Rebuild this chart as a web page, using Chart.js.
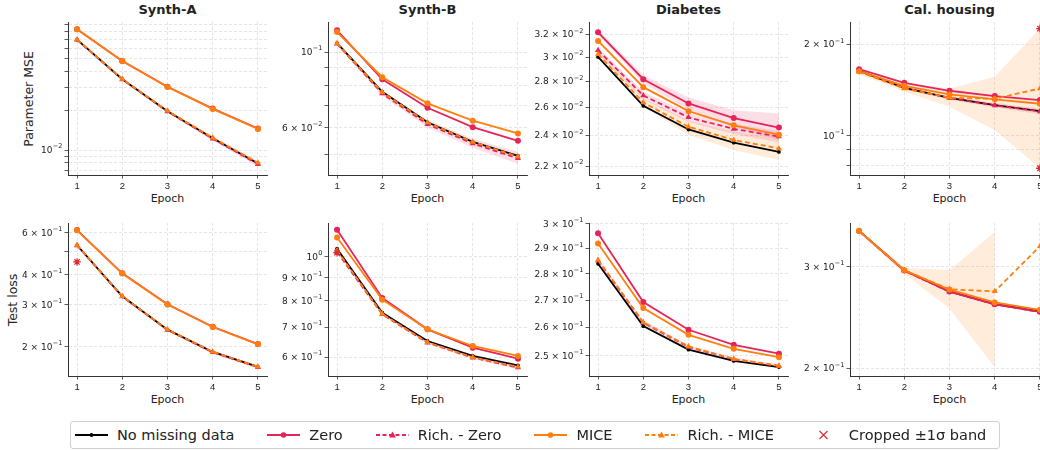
<!DOCTYPE html>
<html>
<head>
<meta charset="utf-8">
<script src="https://cdn.jsdelivr.net/npm/chart.js@4.4.1/dist/chart.umd.min.js"></script>
<style>
	body { margin: 0; background: #fff; font-family: 'DejaVu Sans', sans-serif; color: #222; }
	#page { position: relative; width: 1040px; height: 450px; overflow: hidden; }
	canvas { position: absolute; }
	.title { position: absolute; text-align: center; font-weight: bold; font-size: 13px; line-height: 16px; }
	.xlabel { position: absolute; text-align: center; font-size: 11px; line-height: 13px; }
	.ylabel { position: absolute; font-size: 12.5px; white-space: nowrap; transform: translate(-50%, -50%) rotate(-90deg); }
	#legend { position: absolute; left: 70px; top: 421px; width: 930px; height: 28px; border: 1px solid #d0d0d0; border-radius: 3px; display: flex; align-items: center; padding-left: 4px; box-sizing: border-box; }
	.item { display: flex; align-items: center; margin-right: 33px; font-size: 14.5px; white-space: nowrap; }
	.item svg { margin-right: 9px; }
</style>
</head>
<body>
<div id="page"></div>
<script>
const epochs = [1, 2, 3, 4, 5];
const datasetNames = ['Synth-A', 'Synth-B', 'Diabetes', 'Cal. housing'];
const rowNames = ['Parameter MSE', 'Test loss'];

// parameter MSE, one row per dataset (Synth-A, Synth-B, Diabetes, Cal. housing)
const mseNone = [
	[0.0695, 0.0347, 0.0198, 0.0123, 0.0079],
	[0.1062, 0.0765, 0.0623, 0.0546, 0.0497],
	[0.03003, 0.02612, 0.02442, 0.02352, 0.02291],
	[0.1638, 0.1441, 0.1336, 0.1264, 0.1208]
];
const mseZero = [
	[0.0836, 0.0478, 0.0304, 0.0207, 0.0146],
	[0.1157, 0.0832, 0.0687, 0.0603, 0.0550],
	[0.03221, 0.02818, 0.02630, 0.02523, 0.02455],
	[0.1660, 0.1496, 0.1409, 0.1353, 0.1313]
];
const mseRichZero = [
	[0.0694, 0.0346, 0.0197, 0.0122, 0.0078],
	[0.1057, 0.0756, 0.0615, 0.0540, 0.0489],
	[0.03060, 0.02690, 0.02528, 0.02446, 0.02393],
	[0.1636, 0.1440, 0.1333, 0.1261, 0.1205]
];
const mseMice = [
	[0.0834, 0.0477, 0.0303, 0.0206, 0.0145],
	[0.1144, 0.0844, 0.0708, 0.0630, 0.0578],
	[0.03143, 0.02755, 0.02573, 0.02471, 0.02406],
	[0.1634, 0.1463, 0.1370, 0.1320, 0.1277]
];
const mseRichMice = [
	[0.0697, 0.0348, 0.0199, 0.0124, 0.0080],
	[0.1060, 0.0763, 0.0622, 0.0546, 0.0495],
	[0.03026, 0.02637, 0.02461, 0.02370, 0.02314],
	[0.1627, 0.1434, 0.1336, 0.1326, 0.1434]
];
// ±1σ bands (null = not drawn)
const mseZeroLo = [null, null, [0.03197, 0.02785, 0.02585, 0.02461, 0.02370], null];
const mseZeroHi = [null, null, [0.03246, 0.02851, 0.02675, 0.02580, 0.02556], null];
const mseRichZeroLo = [
	[0.0690, 0.0342, 0.0193, 0.0118, 0.0075],
	[0.1045, 0.0745, 0.0602, 0.0525, 0.0471],
	[0.03035, 0.02660, 0.02495, 0.02410, 0.02355],
	[0.1625, 0.1425, 0.1318, 0.1240, 0.1180]
];
const mseRichZeroHi = [
	[0.0699, 0.0351, 0.0202, 0.0127, 0.0082],
	[0.1070, 0.0770, 0.0632, 0.0558, 0.0511],
	[0.03085, 0.02720, 0.02560, 0.02480, 0.02430],
	[0.1648, 0.1455, 0.1350, 0.1285, 0.1232]
];
const mseRichMiceLo = [null, null, [0.03003, 0.02605, 0.02404, 0.02303, 0.02238], [0.1596, 0.1398, 0.1248, 0.1046, 0.0783]];
const mseRichMiceHi = [null, null, [0.03048, 0.02667, 0.02506, 0.02427, 0.02393], [0.1668, 0.1489, 0.1434, 0.1566, 0.2258]];
const mseCropped = [[], [], [], [[5, 0.2258], [5, 0.0783]]];

// test loss
const lossNone = [
	[0.5328, 0.3259, 0.2363, 0.1906, 0.1650],
	[1.043, 0.7532, 0.6520, 0.6041, 0.5761],
	[0.2839, 0.2605, 0.2522, 0.2483, 0.2462],
	[0.3464, 0.2960, 0.2722, 0.2588, 0.2512]
];
const lossZero = [
	[0.6165, 0.4065, 0.3015, 0.2430, 0.2057],
	[1.149, 0.8117, 0.6918, 0.6303, 0.5959],
	[0.2961, 0.2693, 0.2592, 0.2539, 0.2508],
	[0.3464, 0.2958, 0.2719, 0.2585, 0.2508]
];
const lossRichZero = [
	[0.5318, 0.3250, 0.2357, 0.1900, 0.1645],
	[1.026, 0.7467, 0.6464, 0.5990, 0.5693],
	[0.2852, 0.2617, 0.2531, 0.2489, 0.2466],
	[0.3462, 0.2955, 0.2718, 0.2584, 0.2506]
];
const lossMice = [
	[0.6150, 0.4055, 0.3008, 0.2424, 0.2052],
	[1.104, 0.8048, 0.6918, 0.6356, 0.6041],
	[0.2919, 0.2671, 0.2574, 0.2525, 0.2496],
	[0.3464, 0.2960, 0.2741, 0.2604, 0.2529]
];
const lossRichMice = [
	[0.5335, 0.3262, 0.2366, 0.1910, 0.1652],
	[1.034, 0.7478, 0.6476, 0.6000, 0.5715],
	[0.2854, 0.2619, 0.2533, 0.2490, 0.2466],
	[0.3464, 0.2962, 0.2744, 0.2722, 0.3259]
];
const lossZeroLo = [null, null, null, null];
const lossZeroHi = [null, null, null, null];
const lossRichZeroLo = [
	[0.528, 0.322, 0.233, 0.187, 0.162],
	[1.020, 0.742, 0.642, 0.595, 0.565],
	[0.2845, 0.2610, 0.2525, 0.2484, 0.2460],
	null
];
const lossRichZeroHi = [
	[0.536, 0.329, 0.239, 0.193, 0.168],
	[1.034, 0.752, 0.651, 0.604, 0.574],
	[0.2860, 0.2625, 0.2538, 0.2495, 0.2472],
	null
];
const lossRichMiceLo = [null, null, null, [0.3450, 0.2921, 0.2541, 0.2010, null]];
const lossRichMiceHi = [null, null, null, [0.3478, 0.2992, 0.2960, 0.3448, null]];
const lossCropped = [[[1, 0.4535]], [[1, 1.022]], [], []];

// y axes; labels are "mantissa × 10^exponent"
const mseRange = [[0.00645, 0.0948], [0.0437, 0.1224], [0.02145, 0.03317], [0.0744, 0.2373]];
const lossRange = [[0.1512, 0.66], [0.5455, 1.189], [0.2432, 0.3003], [0.1942, 0.3575]];
const mseTickValues = [
	[0.007, 0.008, 0.009, 0.01, 0.02, 0.03, 0.04, 0.05, 0.06, 0.07, 0.08, 0.09],
	[0.05, 0.06, 0.07, 0.08, 0.09, 0.1],
	[0.022, 0.024, 0.026, 0.028, 0.03, 0.032],
	[0.08, 0.09, 0.1, 0.2]
];
const mseTickLabels = [
	['', '', '', '10^−2', '', '', '', '', '', '', '', ''],
	['', '6 × 10^−2', '', '', '', '10^−1'],
	['2.2 × 10^−2', '2.4 × 10^−2', '2.6 × 10^−2', '2.8 × 10^−2', '3 × 10^−2', '3.2 × 10^−2'],
	['', '', '10^−1', '2 × 10^−1']
];
const lossTickValues = [
	[0.2, 0.3, 0.4, 0.5, 0.6],
	[0.6, 0.7, 0.8, 0.9, 1],
	[0.25, 0.26, 0.27, 0.28, 0.29, 0.3],
	[0.2, 0.3]
];
const lossTickLabels = [
	['2 × 10^−1', '3 × 10^−1', '4 × 10^−1', '', '6 × 10^−1'],
	['6 × 10^−1', '7 × 10^−1', '8 × 10^−1', '9 × 10^−1', '10^0'],
	['2.5 × 10^−1', '2.6 × 10^−1', '2.7 × 10^−1', '2.8 × 10^−1', '2.9 × 10^−1', '3 × 10^−1'],
	['2 × 10^−1', '3 × 10^−1']
];

const RED = '#e6245a';
const ORANGE = '#ff7f0e';
const CROP_RED = '#dc2a2e';
const PINK_BAND = 'rgba(230, 36, 90, 0.15)';
const PEACH_BAND = 'rgba(255, 127, 14, 0.15)';

// draws the y tick labels with a raised exponent, like matplotlib mathtext
const sciTickPlugin = {
	id: 'sciTicks',
	afterDraw: (chart, args, opts) => {
		let s = chart.scales.y;
		let ctx = chart.ctx;
		ctx.save();
		ctx.fillStyle = '#222';
		ctx.textBaseline = 'middle';
		ctx.textAlign = 'left';
		s.ticks.forEach((t, i) => {
			let label = opts.labels[i];
			if (!label) return;
			let [base, exp] = label.split('^');
			let y = s.getPixelForValue(t.value);
			ctx.font = '6.5px "DejaVu Sans"';
			let we = ctx.measureText(exp).width;
			ctx.font = '9px "DejaVu Sans"';
			let wb = ctx.measureText(base).width;
			let x = s.right - 3.5 - 2.5 - we - wb;
			ctx.fillText(base, x, y + 0.5);
			ctx.font = '6.5px "DejaVu Sans"';
			ctx.fillText(exp, x + wb + 0.3, y - 3.5);
		});
		ctx.restore();
	}
};

class FigureGrid {
	constructor() {
		this.page = document.getElementById('page');
		this.colX = [68, 328, 589, 850];
		this.rowY = [22, 223];
		this.plotW = 199;
		this.plotH = 153;
		this.rows = [
			{ none: mseNone, zero: mseZero, richZero: mseRichZero, mice: mseMice, richMice: mseRichMice,
				zeroLo: mseZeroLo, zeroHi: mseZeroHi, richZeroLo: mseRichZeroLo, richZeroHi: mseRichZeroHi,
				richMiceLo: mseRichMiceLo, richMiceHi: mseRichMiceHi, cropped: mseCropped,
				range: mseRange, tickValues: mseTickValues, tickLabels: mseTickLabels },
			{ none: lossNone, zero: lossZero, richZero: lossRichZero, mice: lossMice, richMice: lossRichMice,
				zeroLo: lossZeroLo, zeroHi: lossZeroHi, richZeroLo: lossRichZeroLo, richZeroHi: lossRichZeroHi,
				richMiceLo: lossRichMiceLo, richMiceHi: lossRichMiceHi, cropped: lossCropped,
				range: lossRange, tickValues: lossTickValues, tickLabels: lossTickLabels }
		];
		this.drawText();
		this.rows.forEach((m, r) => datasetNames.forEach((n, c) => this.drawPanel(r, c, m)));
		this.drawLegend();
	}

	addDiv = (cls, text, css) => {
		let div = document.createElement('div');
		div.className = cls;
		div.textContent = text;
		Object.assign(div.style, css);
		this.page.appendChild(div);
	};

	drawText = () => {
		datasetNames.forEach((name, c) => {
			this.addDiv('title', name, { left: this.colX[c] + 'px', width: this.plotW + 'px', top: '2px' });
			this.rowY.forEach((y) => {
				this.addDiv('xlabel', 'Epoch', { left: this.colX[c] + 'px', width: this.plotW + 'px', top: y + this.plotH + 17 + 'px' });
			});
		});
		this.addDiv('ylabel', rowNames[0], { left: '28px', top: this.rowY[0] + this.plotH / 2 + 'px' });
		this.addDiv('ylabel', rowNames[1], { left: '12px', top: this.rowY[1] + this.plotH / 2 + 'px' });
	};

	points = (values) => values.map((v, i) => ({ x: epochs[i], y: v }));

	line = (label, values, color, dash, marker, radius, order) => ({
		label: label,
		data: this.points(values),
		borderColor: color,
		backgroundColor: color,
		borderWidth: 1.8,
		borderDash: dash,
		pointStyle: marker,
		pointRadius: radius,
		pointBorderWidth: 0,
		pointBackgroundColor: color,
		fill: false,
		tension: 0,
		order: order
	});

	band = (lo, hi, color) => {
		if (!lo || !hi) return [];
		return [
			{ data: this.points(hi), borderWidth: 0, pointRadius: 0, fill: '+1', backgroundColor: color, order: 10 },
			{ data: this.points(lo), borderWidth: 0, pointRadius: 0, fill: false, order: 11 }
		];
	};

	drawPanel = (r, c, m) => {
		let canvas = document.createElement('canvas');
		canvas.width = 62 + this.plotW + 10;
		canvas.height = 10 + this.plotH + 20;
		canvas.style.left = this.colX[c] - 62 + 'px';
		canvas.style.top = this.rowY[r] - 10 + 'px';
		this.page.appendChild(canvas);

		let datasets = [
			...this.band(m.zeroLo[c], m.zeroHi[c], PINK_BAND),
			...this.band(m.richZeroLo[c], m.richZeroHi[c], PINK_BAND),
			...this.band(m.richMiceLo[c], m.richMiceHi[c], PEACH_BAND),
			this.line('No missing data', m.none[c], '#000', [], 'circle', 1.9, 5),
			this.line('Zero', m.zero[c], RED, [], 'circle', 3, 4),
			this.line('Rich. - Zero', m.richZero[c], RED, [5, 3], 'triangle', 3.5, 3),
			this.line('MICE', m.mice[c], ORANGE, [], 'circle', 3, 2),
			this.line('Rich. - MICE', m.richMice[c], ORANGE, [5, 3], 'triangle', 3.5, 1),
			{
				label: 'Cropped',
				data: m.cropped[c].map((p) => ({ x: p[0], y: p[1] })),
				showLine: false,
				pointStyle: 'star',
				pointRadius: 3.8,
				pointBorderWidth: 1.3,
				pointBorderColor: CROP_RED,
				borderColor: CROP_RED,
				order: 0
			}
		];

		let grid = { color: '#dedede', lineWidth: 0.8, tickColor: '#333', tickLength: 3.5, tickWidth: 0.8, tickBorderDash: [] };
		let border = { display: true, color: '#333', width: 1, dash: [3, 2] };
		let vals = m.tickValues[c];

		new Chart(canvas, {
			type: 'line',
			data: { datasets: datasets },
			plugins: [sciTickPlugin],
			options: {
				responsive: false,
				animation: false,
				events: [],
				layout: { padding: { top: 10, right: 10, left: 0, bottom: 0 } },
				plugins: {
					legend: { display: false },
					tooltip: { enabled: false },
					filler: { drawTime: 'beforeDatasetsDraw' },
					sciTicks: { labels: m.tickLabels[c] }
				},
				scales: {
					x: {
						type: 'linear',
						bounds: 'data',
						min: 0.8,
						max: 5.2,
						afterBuildTicks: (s) => { s.ticks = epochs.map((v) => ({ value: v })); },
						afterFit: (s) => { s.height = 20; },
						ticks: { color: '#222', font: { size: 9.5 }, padding: 2, maxRotation: 0, autoSkip: false, callback: (v) => String(v) },
						grid: grid,
						border: border
					},
					y: {
						type: 'logarithmic',
						bounds: 'data',
						min: m.range[c][0],
						max: m.range[c][1],
						afterBuildTicks: (s) => { s.ticks = vals.map((v) => ({ value: v })); },
						afterFit: (s) => { s.width = 62; },
						ticks: { display: false, autoSkip: false },
						grid: grid,
						border: border
					}
				}
			}
		});
	};

	handle = (color, dash, marker) => {
		let line = marker === 'x' ? '' : `<line x1="0" y1="7" x2="33" y2="7" stroke="${color}" stroke-width="1.8" stroke-dasharray="${dash}"/>`;
		let mark = '';
		if (marker === 'circle') mark = `<circle cx="16.5" cy="7" r="2.8" fill="${color}"/>`;
		if (marker === 'dot') mark = `<circle cx="16.5" cy="7" r="1.9" fill="${color}"/>`;
		if (marker === 'triangle') mark = `<polygon points="16.5,3.6 19.9,9.6 13.1,9.6" fill="${color}"/>`;
		if (marker === 'x') mark = `<path d="M12.5,3 L20.5,11 M20.5,3 L12.5,11" stroke="${color}" stroke-width="1.1"/>`;
		return `<svg width="33" height="14">${line}${mark}</svg>`;
	};

	drawLegend = () => {
		let legend = document.createElement('div');
		legend.id = 'legend';
		let items = [
			['No missing data', '#000', '', 'dot'],
			['Zero', RED, '', 'circle'],
			['Rich. - Zero', RED, '4 2.5', 'triangle'],
			['MICE', ORANGE, '', 'circle'],
			['Rich. - MICE', ORANGE, '4 2.5', 'triangle'],
			['Cropped ±1σ band', CROP_RED, '', 'x']
		];
		items.forEach((it) => {
			legend.insertAdjacentHTML('beforeend', `<div class="item">${this.handle(it[1], it[2], it[3])}<span>${it[0]}</span></div>`);
		});
		this.page.appendChild(legend);
	};
}

new FigureGrid();
</script>
</body>
</html>
